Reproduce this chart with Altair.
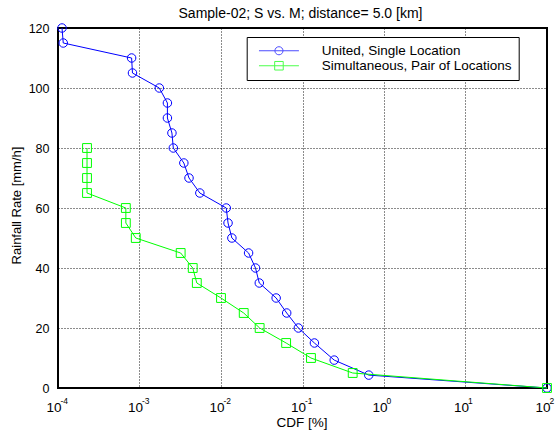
import altair as alt
import pandas as pd

# ---- data ----
series_names = ["United, Single Location", "Simultaneous, Pair of Locations"]

blue_cdf = [1.12e-4, 1.16e-4, 8.0e-4, 8.2e-4, 1.75e-3, 2.2e-3, 2.2e-3, 2.5e-3, 2.6e-3,
            3.5e-3, 4.05e-3, 5.5e-3, 1.16e-2, 1.22e-2, 1.36e-2, 2.18e-2, 2.65e-2,
            2.95e-2, 4.75e-2, 6.4e-2, 8.9e-2, 0.14, 0.245, 0.65, 100]
blue_rate = [120, 115, 110, 105, 100, 95, 90, 85, 80, 75, 70, 65, 60, 55, 50, 45, 40,
             35, 30, 25, 20, 15, 9.3, 4.3, 0]

green_cdf = [2.27e-4, 2.27e-4, 2.27e-4, 2.27e-4, 6.8e-4, 6.8e-4, 9.0e-4, 3.2e-3, 4.5e-3,
             5.05e-3, 1.0e-2, 1.9e-2, 2.98e-2, 6.3e-2, 0.127, 0.413, 100]
green_rate = [80, 75, 70, 65, 60, 55, 50, 45, 40, 35, 30, 25, 20, 15, 10, 5, 0]

x_tick_values = [1e-4, 1e-3, 1e-2, 1e-1, 1e0, 1e1, 1e2]
x_tick_exponents = ["-4", "-3", "-2", "-1", "0", "1", "2"]
y_tick_values = [0, 20, 40, 60, 80, 100, 120]

blue_color = "#0000FF"
green_color = "#00FF00"

blue_df = pd.DataFrame({"cdf": blue_cdf, "rate": blue_rate, "i": range(len(blue_cdf))})
green_df = pd.DataFrame({"cdf": green_cdf, "rate": green_rate, "i": range(len(green_cdf))})
ticks_df = pd.DataFrame({"cdf": x_tick_values, "e": x_tick_exponents})
legend_df = pd.DataFrame({"series": series_names})

FONT = "Liberation Sans"
W, H = 489, 360

xscale = alt.Scale(type="log", domain=[1e-4, 1e2], nice=False)
yscale = alt.Scale(domain=[0, 120], nice=False)

x_axis = alt.Axis(values=x_tick_values, labels=False, ticks=False, domain=False,
                  grid=True, gridColor="#000000", gridDash=[1, 2], gridOpacity=0.9,
                  gridWidth=1, title="CDF [%]", titleFont=FONT, titleFontSize=13.5,
                  titleFontWeight="normal", titleColor="#000000",
                  titleBaseline="alphabetic", titleY=38, titleX=W / 2 - 1)
y_axis = alt.Axis(values=y_tick_values, ticks=False, domain=False, grid=True,
                  gridColor="#000000", gridDash=[1, 2], gridOpacity=0.9, gridWidth=1,
                  labelFont=FONT, labelFontSize=12.5, labelColor="#000000",
                  labelPadding=9, title="Rainfall Rate [mm/h]", titleFont=FONT,
                  titleFontSize=13, titleFontWeight="normal", titleColor="#000000",
                  titleBaseline="middle", titleX=-41.5, titleY=H / 2 - 3, titleAngle=-90)

XE = alt.X("cdf:Q", scale=xscale, axis=x_axis, title="CDF [%]")
YE = alt.Y("rate:Q", scale=yscale, axis=y_axis, title="Rainfall Rate [mm/h]")


def series_layers(df, color, shape, size):
    line = alt.Chart(df).mark_line(color=color, strokeWidth=1, clip=False).encode(
        x=XE, y=YE, order=alt.Order("i:Q"))
    pts = alt.Chart(df).mark_point(shape=shape, size=size, filled=False, color=color,
                                   strokeWidth=1, opacity=1, clip=False).encode(x=XE, y=YE)
    return [line, pts]


layers = []
layers += series_layers(blue_df, blue_color, "circle", 72)
layers += series_layers(green_df, green_color, "square", 78)

# x tick labels as 10 with superscript exponent
base_lbl = alt.Chart(ticks_df).mark_text(text="10", font=FONT, fontSize=13.5, align="center",
                                         baseline="alphabetic", dx=-4, color="#000000").encode(
    x=XE, y=alt.value(H + 23.5))
exp_lbl = alt.Chart(ticks_df).mark_text(font=FONT, fontSize=8.5, align="left",
                                        baseline="alphabetic", dx=2.5, color="#000000").encode(
    x=XE, y=alt.value(H + 15.5), text="e:N")
layers += [base_lbl, exp_lbl]

# legend-only layer (no marks drawn), symbols are line+marker paths
circ_path = "M-4.44,0L4.44,0M-0.9,0A0.9,0.9,0,1,1,0.9,0A0.9,0.9,0,1,1,-0.9,0Z"
sq_path = "M-4.44,0L4.44,0M-0.95,-0.95L0.95,-0.95L0.95,0.95L-0.95,0.95Z"
leg = alt.Legend(title=None, orient="none", legendX=188.7, legendY=9,
                 strokeColor="#000000", padding=7, fillColor="#FFFFFF",
                 labelFont=FONT, labelFontSize=13.5, labelColor="#000000", labelAlign="left",
                 symbolSize=81, symbolStrokeWidth=1, symbolOffset=18.5,
                 labelOffset=36, rowPadding=0, labelLimit=400)
legend_layer = alt.Chart(legend_df).mark_point(filled=False, strokeWidth=1).encode(
    color=alt.Color("series:N",
                    scale=alt.Scale(domain=series_names, range=[blue_color, green_color]),
                    legend=leg),
    shape=alt.Shape("series:N",
                    scale=alt.Scale(domain=series_names, range=[circ_path, sq_path]),
                    legend=leg),
).transform_filter("false")
layers.append(legend_layer)

chart = alt.layer(*layers).properties(
    width=W, height=H,
    title=alt.TitleParams("Sample-02; S vs. M; distance= 5.0 [km]", font=FONT, fontSize=14,
                          fontWeight="normal", color="#000000", anchor="middle",
                          frame="group", baseline="alphabetic", offset=11, dx=-2, dy=21),
    autosize=alt.AutoSizeParams(type="none"),
    padding={"left": 58, "top": 28, "right": 10, "bottom": 46},
    background="#FFFFFF",
).configure_view(stroke="#000000", strokeWidth=2)

chart.save("out.html", embed_options={"renderer": "svg", "actions": False})
